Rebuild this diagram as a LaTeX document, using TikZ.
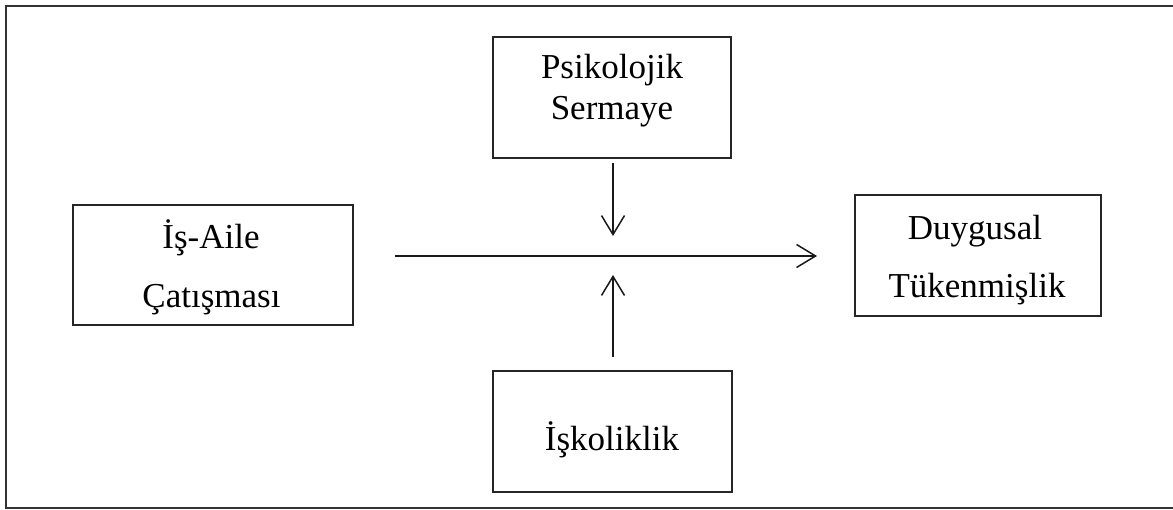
\documentclass[tikz,border=0pt]{standalone}
\usepackage{fontspec}
\setmainfont{Liberation Serif}
\usetikzlibrary{arrows.meta}

\begin{document}
\begin{tikzpicture}[x=1pt,y=-1pt,
  box/.style={draw=black!85,line width=1.8pt,rectangle,inner sep=0pt},
  lbl/.style={anchor=base,inner sep=0pt,font=\fontsize{35}{40}\selectfont},
  arr/.style={draw=black!90,line width=1.5pt,
    -{Straight Barb[length=19pt,width=23pt,line width=1.5pt]}}]
  \useasboundingbox (0,0) rectangle (1173,510);
  % outer frame (right side runs past the page edge)
  \draw[black!80,line width=2pt] (1185,6) -- (6,6) -- (6,508) -- (1185,508);

  % boxes
  \node[box,minimum width=238pt,minimum height=121pt] (psy)   at (612,97.5) {};
  \node[box,minimum width=280pt,minimum height=120pt] (isa)   at (213,265)  {};
  \node[box,minimum width=246pt,minimum height=121pt] (duy)   at (978,255.5) {};
  \node[box,minimum width=239pt,minimum height=121pt] (isk)   at (612.5,431.5) {};

  % labels
  \node[lbl] (psy1) at (612,79)  {Psikolojik};
  \node[lbl] (psy2) at (612,120) {Sermaye};
  \node[lbl] (isa1) at (211,249) {İş-Aile};
  \node[lbl] (isa2) at (211.5,308) {Çatışması};
  \node[lbl] (duy1) at (975,240) {Duygusal};
  \node[lbl] (duy2) at (977,298) {Tükenmişlik};
  \node[lbl] (isk1) at (612,450) {İşkoliklik};

  % connector ends
  \coordinate (hs) at (395,256);
  \coordinate (he) at (817,256);
  \coordinate (ds) at (613,163);
  \coordinate (de) at (613,236);
  \coordinate (us) at (613,357);
  \coordinate (ue) at (613,275);

  % arrows
  \draw[arr] (hs) -- (he);
  \draw[arr] (ds) -- (de);
  \draw[arr] (us) -- (ue);
\end{tikzpicture}
\end{document}
